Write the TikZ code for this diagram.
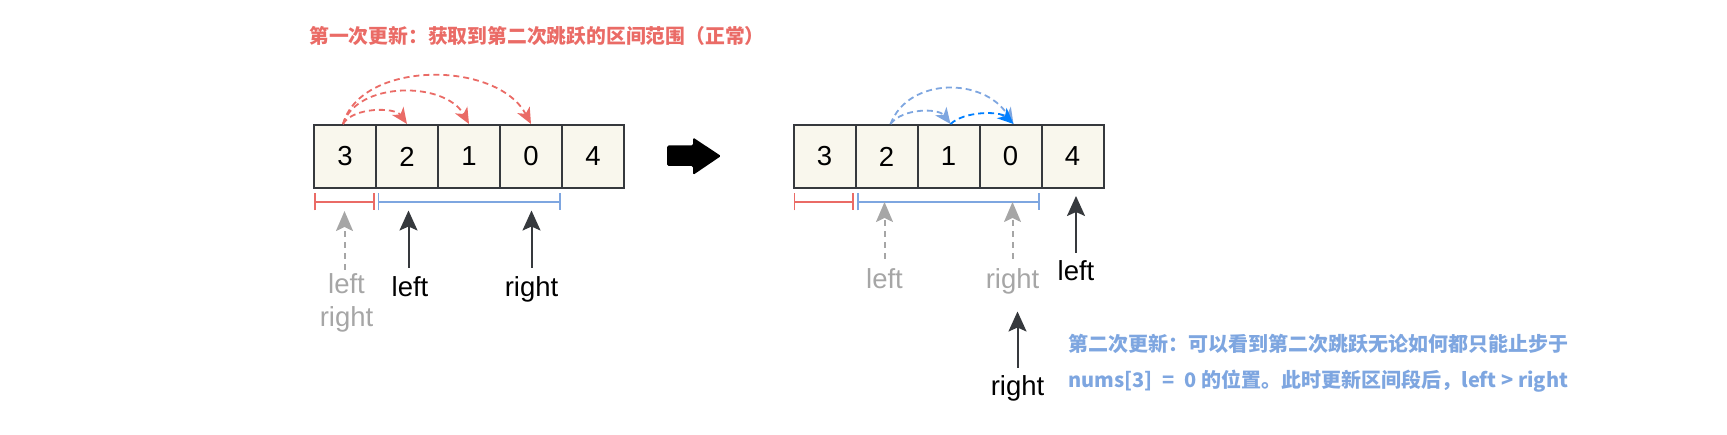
\documentclass[tikz,border=0pt]{standalone}
\usepackage{fontspec}
\setmainfont{Liberation Sans}
\newfontfamily\cjk{Noto Sans CJK SC}
\usetikzlibrary{arrows.meta}
\definecolor{cellfill}{HTML}{F9F7ED}
\definecolor{cellline}{HTML}{36393D}
\definecolor{redc}{HTML}{EA6B66}
\definecolor{bluec}{HTML}{7EA6E0}
\definecolor{dblue}{HTML}{007FFF}
\definecolor{grayc}{HTML}{A6A6A6}
\begin{document}
\begin{tikzpicture}[x=1pt,y=-1pt,
  cell/.style={draw=cellline, fill=cellfill, line width=2pt, minimum width=62pt, minimum height=63pt, inner sep=0pt, font=\fontsize{27.5}{32}\selectfont},
  arc/.style={dashed, dash pattern=on 6pt off 4pt, line width=1.8pt, -{Stealth[length=16pt,width=14pt,inset=4.5pt]}},
  ptr/.style={draw=cellline, line width=2pt, -{Stealth[length=20pt,width=18pt,inset=4pt]}},
  gptr/.style={draw=grayc, line width=2pt, dashed, dash pattern=on 6pt off 5pt, -{Stealth[length=20pt,width=17pt,inset=4pt]}},
  lab/.style={anchor=base, inner sep=0pt, font=\fontsize{27.5}{32}\selectfont},
  span/.style={line width=1.6pt, {Bar[width=17pt]}-{Bar[width=17pt]}}
]
\useasboundingbox (0,0) rectangle (1727,435);

% title
\node[anchor=base west, inner sep=0pt, text=redc, font=\cjk\bfseries\fontsize{19.8}{24}\selectfont] (title) at (309,43.5) {第一次更新：获取到第二次跳跃的区间范围（正常）};

% first array
\node[cell] (a0) at (345,156.5) {3};
\node[cell] (a1) at (407,156.5) {2};
\node[cell] (a2) at (469,156.5) {1};
\node[cell] (a3) at (531,156.5) {0};
\node[cell] (a4) at (593,156.5) {4};

\draw[arc, draw=redc, redc] ([xshift=-2pt]a0.north) .. controls +(10,-17) and +(-12,-17) .. (a1.north);
\draw[arc, draw=redc, redc] ([xshift=-2pt]a0.north) .. controls +(14,-43) and +(-24,-43) .. (a2.north);
\draw[arc, draw=redc, redc] ([xshift=-2pt]a0.north) .. controls +(18,-64) and +(-34,-64) .. (a3.north);

% spans first
\coordinate (r1a) at (314,202);
\coordinate (r1b) at (375,202);
\coordinate (b1a) at (377.5,202);
\coordinate (b1b) at (561,202);
\draw[span, redc] (r1a) -- (r1b);
\draw[span, bluec] (b1a) -- (b1b);

% pointers first
\coordinate (g1s) at (344.5,270);
\coordinate (g1e) at (344.5,211);
\draw[gptr] (g1s) -- (g1e);
\node[lab, text=grayc] (gl1) at (346.5,293.3) {left};
\node[lab, text=grayc] (gr1) at (346.5,326.7) {right};

\coordinate (p1s) at (408.5,268);
\coordinate (p1e) at (408.5,210.5);
\draw[ptr] (p1s) -- (p1e);
\node[lab] (l1) at (410,296.7) {left};

\coordinate (p2s) at (531.5,268);
\coordinate (p2e) at (531.5,210.5);
\draw[ptr] (p2s) -- (p2e);
\node[lab] (rr1) at (531.5,296.7) {right};

% big arrow
\fill[black, rounded corners=1.5pt] (667,145.5) -- (693,145.5) -- (693,137.5) -- (721,156) -- (693,175) -- (693,166) -- (667,166) -- cycle;

% second array
\node[cell] (b0) at (824.5,156.5) {3};
\node[cell] (b1) at (886.5,156.5) {2};
\node[cell] (b2) at (948.5,156.5) {1};
\node[cell] (b3) at (1010.5,156.5) {0};
\node[cell] (b4) at (1072.5,156.5) {4};

\draw[arc, draw=bluec, bluec] ([xshift=4pt]b1.north) .. controls +(12,-16) and +(-12,-16) .. ([xshift=2pt]b2.north);
\draw[arc, draw=bluec, bluec] ([xshift=4pt]b1.north) .. controls +(18,-47) and +(-30,-47) .. ([xshift=3pt]b3.north);
\draw[arc, draw=dblue, dblue] ([xshift=2pt]b2.north) .. controls +(14,-13) and +(-14,-13) .. ([xshift=3pt]b3.north);

% spans second
\coordinate (r2a) at (793.5,202);
\coordinate (r2b) at (854,202);
\coordinate (b2a) at (857,202);
\coordinate (b2b) at (1040,202);
\draw[span, redc] (r2a) -- (r2b);
\draw[span, bluec] (b2a) -- (b2b);

% pointers second
\coordinate (g2s) at (884.5,259);
\coordinate (g2e) at (884.5,202);
\draw[gptr] (g2s) -- (g2e);
\node[lab, text=grayc] (gl2) at (884.5,288.3) {left};

\coordinate (g3s) at (1012.5,259);
\coordinate (g3e) at (1012.5,202);
\draw[gptr] (g3s) -- (g3e);
\node[lab, text=grayc] (gr2) at (1012.5,288.3) {right};

\coordinate (p3s) at (1076,253);
\coordinate (p3e) at (1076,196);
\draw[ptr] (p3s) -- (p3e);
\node[lab] (l2) at (1076,281) {left};

\coordinate (p4s) at (1017.5,368);
\coordinate (p4e) at (1017.5,311.5);
\draw[ptr] (p4s) -- (p4e);
\node[lab] (rr2) at (1017.5,396) {right};

% blue note
\node[anchor=base west, inner sep=0pt, text=bluec, font=\cjk\bfseries\fontsize{20}{24}\selectfont] (n1) at (1068,352) {第二次更新：可以看到第二次跳跃无论如何都只能止步于};
\node[anchor=base west, inner sep=0pt, text=bluec, font=\cjk\bfseries\fontsize{20}{24}\selectfont] (n2) at (1068,388) {nums[3]\hspace{0.5em}=\hspace{0.5em}0 的位置。此时更新区间段后，left > right};
\end{tikzpicture}
\end{document}
